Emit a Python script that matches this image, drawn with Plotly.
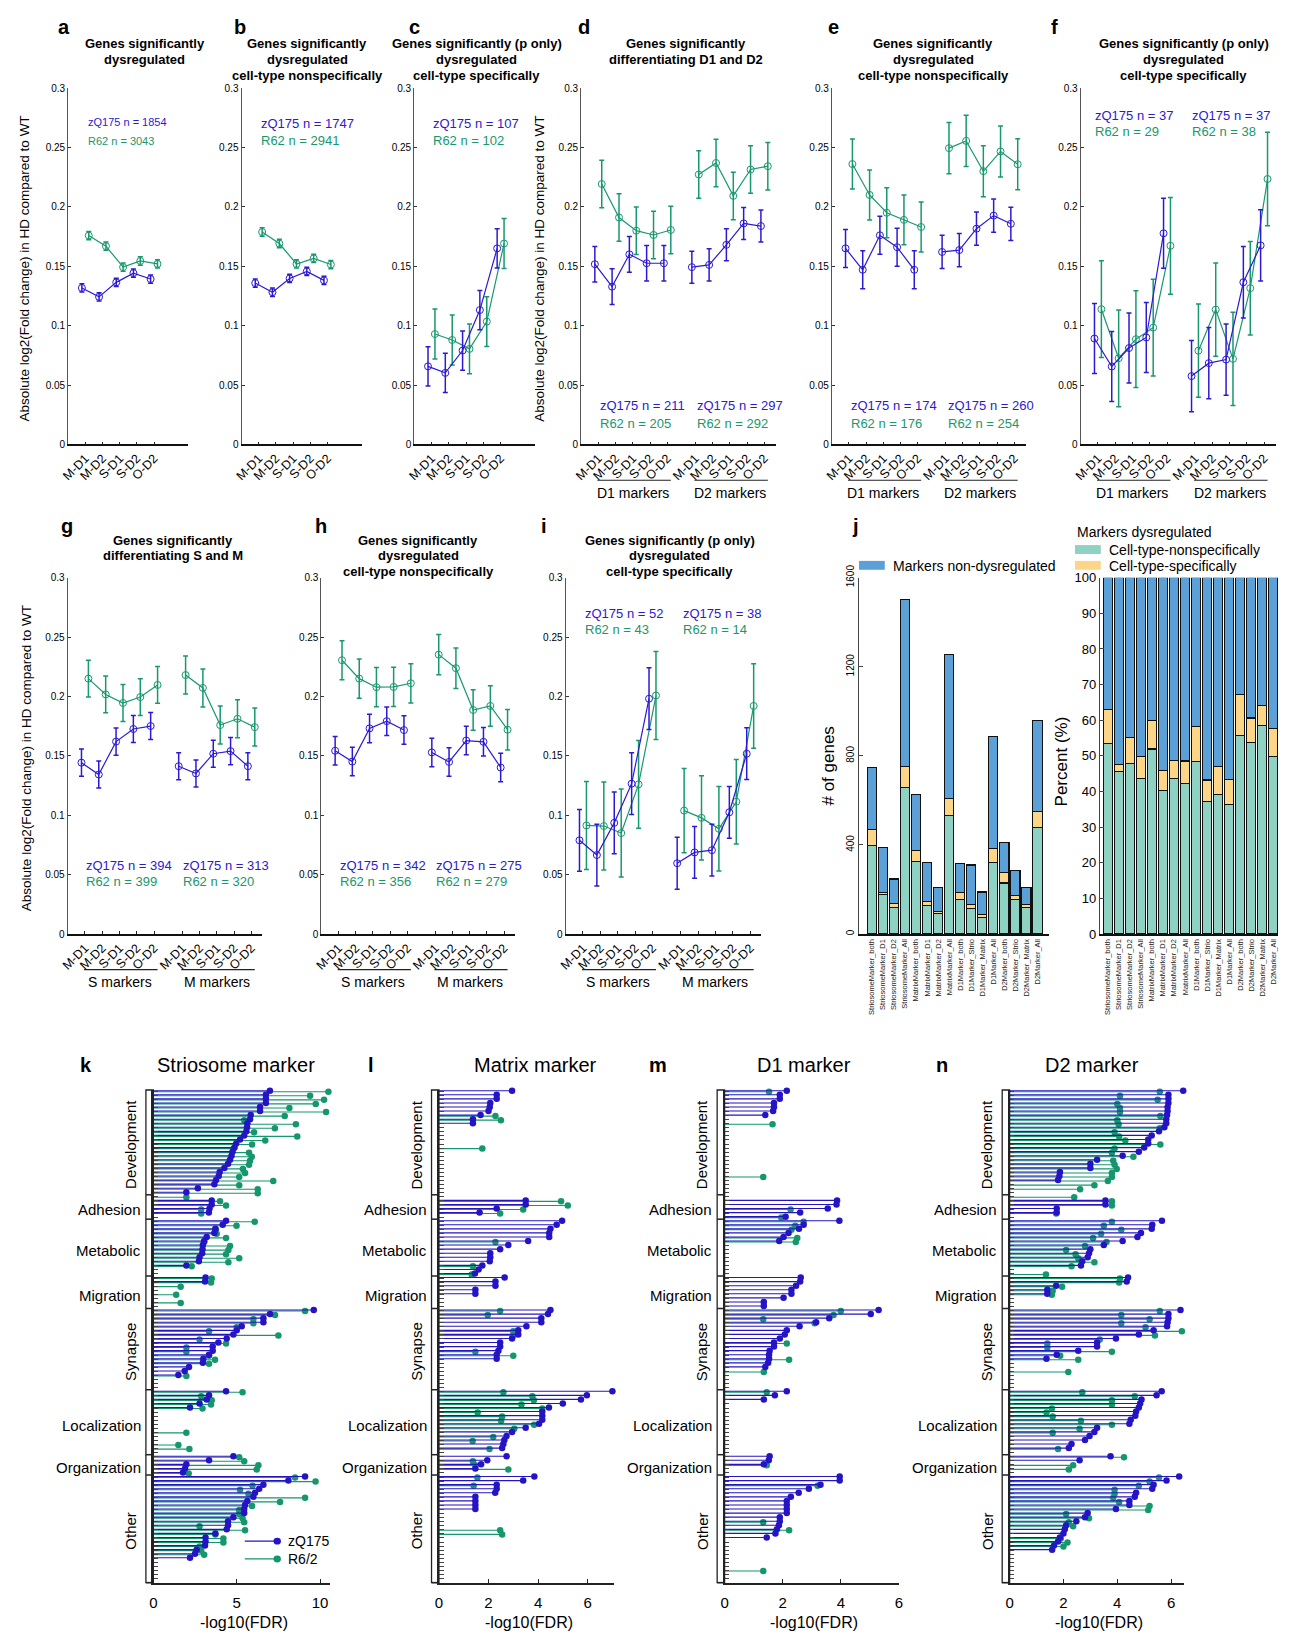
import plotly.graph_objects as go

W, H = 1293, 1639
FONT = "Liberation Sans, Arial, Helvetica, sans-serif"

BLUE = "#2c19d3"
GREEN = "#17986e"
STEM_BLUE = "#2414c4"
STEM_GREEN = "#15966c"
BAR_BLUE = "#5ca0d8"
BAR_TEAL = "#8fd2c3"
BAR_YELLOW = "#fdd587"

# ---------------- panels a-i : mean |log2 FC| per cell-type marker set ----------------
CONDITIONS = ["M-D1", "M-D2", "S-D1", "S-D2", "O-D2"]
Y_TICKS = [0, 0.05, 0.1, 0.15, 0.2, 0.25, 0.3]
Y_TICK_TEXT = ["0", "0.05", "0.1", "0.15", "0.2", "0.25", "0.3"]

A_ZQ = [0.1317, 0.1242, 0.1364, 0.1442, 0.1392]
A_ZQ_ERR = [0.0035, 0.0035, 0.0035, 0.0035, 0.0035]
A_R62 = [0.1758, 0.1669, 0.1492, 0.1544, 0.1519]
A_R62_ERR = [0.0035, 0.0035, 0.0035, 0.0035, 0.0035]

B_ZQ = [0.1358, 0.1281, 0.1397, 0.1456, 0.1381]
B_ZQ_ERR = [0.0035, 0.0035, 0.0035, 0.0035, 0.0035]
B_R62 = [0.1788, 0.1691, 0.1519, 0.1566, 0.1514]
B_R62_ERR = [0.0035, 0.0035, 0.0035, 0.0035, 0.0035]

C_ZQ = [0.0657, 0.0602, 0.0790, 0.1131, 0.1650]
C_ZQ_ERR = [0.0165, 0.0165, 0.0165, 0.0165, 0.0165]
C_R62 = [0.0929, 0.0879, 0.0804, 0.1034, 0.1691]
C_R62_ERR = [0.021, 0.021, 0.021, 0.021, 0.021]

D_ZQ = [0.1517, 0.1328, 0.1600, 0.1525, 0.1525, 0.1492, 0.1511, 0.1680, 0.1860, 0.1838]
D_ZQ_ERR = [0.015, 0.015, 0.015, 0.015, 0.015, 0.0135, 0.0135, 0.0135, 0.0135, 0.0135]
D_R62 = [0.2192, 0.1910, 0.1799, 0.1763, 0.1805, 0.2272, 0.2369, 0.2092, 0.2314, 0.2342]
D_R62_ERR = [0.02, 0.02, 0.02, 0.02, 0.02, 0.02, 0.02, 0.02, 0.02, 0.02]

E_ZQ = [0.1650, 0.1470, 0.1760, 0.1660, 0.1470, 0.1620, 0.1636, 0.1816, 0.1926, 0.1857]
E_ZQ_ERR = [0.016, 0.016, 0.016, 0.016, 0.016, 0.014, 0.014, 0.014, 0.014, 0.014]
E_R62 = [0.2360, 0.2100, 0.1950, 0.1890, 0.1830, 0.2494, 0.2555, 0.2300, 0.2466, 0.2358]
E_R62_ERR = [0.021, 0.021, 0.021, 0.021, 0.021, 0.0215, 0.0215, 0.0215, 0.0215, 0.0215]

F_ZQ = [0.0891, 0.0656, 0.0811, 0.0900, 0.1777, 0.0575, 0.0684, 0.0714, 0.1365, 0.1675]
F_ZQ_ERR = [0.0295, 0.0295, 0.0295, 0.0295, 0.0295, 0.030, 0.030, 0.030, 0.030, 0.030]
F_R62 = [0.1138, 0.0725, 0.0886, 0.0983, 0.1672, 0.0789, 0.1135, 0.0720, 0.1315, 0.2234]
F_R62_ERR = [0.0407, 0.0407, 0.0407, 0.0407, 0.0407, 0.0393, 0.0393, 0.0393, 0.0393, 0.0393]

G_ZQ = [0.1443, 0.1343, 0.1620, 0.1726, 0.1751, 0.1413, 0.1352, 0.1518, 0.1540, 0.1413]
G_ZQ_ERR = [0.0114, 0.0114, 0.0114, 0.0114, 0.0114, 0.0114, 0.0114, 0.0114, 0.0114, 0.0114]
G_R62 = [0.2150, 0.2017, 0.1945, 0.1995, 0.2097, 0.2180, 0.2072, 0.1759, 0.1812, 0.1742]
G_R62_ERR = [0.0155, 0.0155, 0.0155, 0.0155, 0.0155, 0.016, 0.016, 0.016, 0.016, 0.016]

H_ZQ = [0.1543, 0.1452, 0.1731, 0.1792, 0.1717, 0.1529, 0.1449, 0.1629, 0.1618, 0.1402]
H_ZQ_ERR = [0.012, 0.012, 0.012, 0.012, 0.012, 0.012, 0.012, 0.012, 0.012, 0.012]
H_R62 = [0.2305, 0.2150, 0.2078, 0.2080, 0.2111, 0.2352, 0.2238, 0.1886, 0.1920, 0.1720]
H_R62_ERR = [0.0165, 0.0165, 0.0165, 0.0165, 0.0165, 0.017, 0.017, 0.017, 0.017, 0.017]

I_ZQ = [0.0789, 0.0665, 0.0936, 0.1266, 0.1981, 0.0596, 0.0687, 0.0706, 0.1025, 0.1518]
I_ZQ_ERR = [0.026, 0.026, 0.026, 0.026, 0.026, 0.0218, 0.0218, 0.0218, 0.0218, 0.0218]
I_R62 = [0.0914, 0.0909, 0.0850, 0.1260, 0.2008, 0.1039, 0.0978, 0.0886, 0.1114, 0.1920]
I_R62_ERR = [0.037, 0.037, 0.037, 0.037, 0.037, 0.0355, 0.0355, 0.0355, 0.0355, 0.0355]

# gene counts shown in each panel (zQ175, R6/2), one per marker group
A_N = (["1854"], ["3043"])
B_N = (["1747"], ["2941"])
C_N = (["107"], ["102"])
D_N = (["211", "297"], ["205", "292"])
E_N = (["174", "260"], ["176", "254"])
F_N = (["37", "37"], ["29", "38"])
G_N = (["394", "313"], ["399", "320"])
H_N = (["342", "275"], ["356", "279"])
I_N = (["52", "38"], ["43", "14"])

# ---------------- panel j : marker genes and their dysregulation ----------------
MARKER_SETS = ["StriosomeMarker_both", "StriosomeMarker_D1", "StriosomeMarker_D2", "StriosomeMarker_All",
               "MatrixMarker_both", "MatrixMarker_D1", "MatrixMarker_D2", "MatrixMarker_All",
               "D1Marker_both", "D1Marker_Strio", "D1Marker_Matrix", "D1Marker_All",
               "D2Marker_both", "D2Marker_Strio", "D2Marker_Matrix", "D2Marker_All"]
NONSPECIFIC = [399, 177, 118, 657, 325, 130, 92, 532, 154, 115, 74, 322, 229, 154, 121, 477]
SPECIFIC = [71, 8, 18, 94, 50, 18, 11, 78, 31, 19, 15, 62, 47, 20, 12, 74]
NOT_DYSREGULATED = [276, 204, 111, 753, 251, 174, 108, 646, 133, 176, 100, 502, 135, 113, 74, 406]

# ---------------- panels k-n : enriched GO terms (-log10 FDR) ----------------
CATEGORIES = ["Development", "Adhesion", "Metabolic", "Migration", "Synapse",
              "Localization", "Organization", "Other"]
CATEGORY_ROWS = [26, 6, 14, 8, 20, 16, 5, 26]
ROTATED_CATEGORIES = ["Development", "Synapse", "Other"]
_ = None

K_ZQ = [
    [6.99, 6.75, 6.75, 6.75, 6.4, 6.4, 5.84, 5.8, 5.64, 5.62, 5.58, 5.45, 5.2, 4.97, 4.87, 4.75, 4.69, 4.6,
     4.48, 4.26, 3.98, 3.92, 3.76, 3.66, 2.67, 1.98],
    [_, 3.5, 3.5, 3.37, 3.33, _],
    [4.36, 4.16, 3.72, 3.66, 3.2, 3.05, 2.97, 2.95, 2.93, 2.77, 2.73, 1.98, _, _],
    [3.13, 3.1, _, _, _, _, _, _],
    [9.62, 7.0, 6.6, 6.6, 5.3, 5.0, 4.8, 4.4, 3.9, 3.56, 3.56, 3.34, 3.0, 2.97, 2.14, 1.88, 1.5, _, _, _],
    [4.36, 3.34, 3.2, 2.77, 2.2, _, _, _, _, _, _, _, _, _, _, _],
    [4.8, 3.34, 1.98, 1.9, 1.78],
    [9.1, 8.1, 6.6, 6.35, 6.1, 6.0, 5.64, 5.5, 5.45, 5.45, 4.8, 4.48, 4.48, 4.4, 3.72, 3.13, 3.13, 3.1,
     2.6, 2.5, 2.2, _, _, _, _, _],
]
K_R62 = [
    [10.5, 9.4, 10.24, 9.74, 8.16, 10.36, 7.88, 5.45, 8.55, 7.29, 6.04, 8.63, 6.71, 5.92, 4.81, 5.74, 5.9, 5.8,
     5.74, 5.37, 5.5, 5.15, 7.19, 5.15, 6.26, 6.26],
    [1.98, 4.0, 4.36, 2.87, 2.87, _],
    [6.08, 4.99, 3.76, 3.8, 4.36, 3.05, 4.6, 4.5, 4.36, 5.15, 4.5, 2.3, _, _],
    [3.5, 3.46, 1.64, _, 1.37, _, 1.64, _],
    [9.1, 7.3, 6.0, 6.0, 5.0, 3.34, 7.5, 2.77, 4.36, 1.98, 1.98, 3.34, 3.7, 3.34, _, _, 1.98, _, _, _],
    [5.35, 2.87, 3.5, 3.46, 2.95, _, _, _, _, _, 1.98, _, _, 1.5, 2.16, _],
    [5.15, 5.45, 6.3, 6.2, 2.12],
    [8.5, 9.73, 5.95, 5.2, 5.7, 9.1, 7.6, 5.92, 5.15, 5.15, 5.35, 5.45, 2.77, 5.5, 3.72, 4.2, 4.2, 2.77,
     2.87, 3.05, _, _, _, _, _, _],
]
L_ZQ = [
    [2.95, 2.33, 2.33, 2.07, 2.05, 2.0, 1.68, 1.37, 1.37, _, _, _, _, _, _, _, _, _, _, _, _, _, _, _, _, _],
    [_, 3.5, 3.5, 2.33, 1.64, _],
    [4.97, 4.75, 4.5, 4.45, 4.45, 3.6, 2.8, 2.47, 2.07, 2.07, 2.05, 1.75, 1.6, 1.45],
    [2.65, 2.28, 2.28, 1.47, 1.47, _, _, _],
    [4.5, 4.4, 4.13, 4.13, 3.53, 3.2, 3.2, 2.95, 2.47, 2.47, 2.4, 2.33, 2.33, _, _, _, _, _, _, _],
    [7.0, 5.97, 5.73, 5.0, 4.44, 4.17, 4.17, 4.17, 4.04, 3.5, 2.95, 2.73, 2.64, 2.6, 2.55, _],
    [2.73, 1.95, 1.7, 1.47, _],
    [3.85, 3.4, 2.33, 2.33, 2.27, 1.47, 1.47, 1.47, 1.47, _, _, _, _, _, _, _, _, _, _, _, _, _, _, _, _, _],
]
L_R62 = [
    [_, _, _, _, _, _, 2.28, 2.5, _, _, _, _, _, _, 1.75, _, _, _, _, _, _, _, _, _, _, _],
    [_, 4.93, 5.2, 3.4, 2.47, _],
    [_, _, _, _, _, 2.28, _, _, _, _, _, 1.37, _, 1.32],
    [_, _, _, _, _, _, _, _],
    [2.47, 1.97, _, _, _, 3.0, 3.0, _, _, _, 1.47, 3.0, _, _, _, _, _, _, _, _],
    [2.6, 3.77, 3.83, 3.33, 4.17, 1.56, 2.55, 2.51, 3.84, 3.04, _, 2.19, 1.36, _, 2.04, _],
    [_, 1.37, 1.47, 2.8, _],
    [1.55, _, 1.4, _, _, _, _, _, _, _, _, _, _, 2.47, 2.55, _, _, _, _, _, _, _, _, _, _, _],
]
M_ZQ = [
    [2.14, 1.9, 1.9, 1.7, 1.7, 1.67, 1.4, _, _, _, _, _, _, _, _, _, _, _, _, _, _, _, _, _, _, _],
    [_, 3.87, 3.85, 3.55, 2.6, 2.1],
    [3.95, 2.72, 2.56, 2.2, 2.03, 1.88, _, _, _, _, _, _, _, _],
    [2.62, 2.6, 2.46, 2.3, 2.3, 2.03, 1.35, 1.35],
    [5.3, 5.03, 3.6, 3.15, 2.58, 2.14, 2.07, 1.9, 1.7, 1.7, 1.55, 1.53, 1.53, 1.5, 1.4, _, _, _, _, _],
    [2.14, 1.73, 1.35, _, _, _, _, _, _, _, _, _, _, _, _, _],
    [1.55, 1.52, 1.35, _, _],
    [3.96, 3.96, 3.3, 2.9, 2.55, 2.28, 2.14, 2.14, 2.14, 2.14, 1.9, 1.9, 1.87, 1.8, 1.75, 1.45,
     _, _, _, _, _, _, _, _, _, _],
]
M_R62 = [
    [1.53, _, _, _, _, _, _, _, 1.65, _, _, _, _, _, _, _, _, _, _, _, _, 1.33, _, _, _, _],
    [_, _, _, 2.27, _, 1.95],
    [2.72, 2.43, 2.3, _, 2.5, 2.45, _, _, _, _, _, _, _, _],
    [_, _, _, _, _, _, _, _],
    [4.0, 3.75, 1.33, 3.1, _, _, _, _, 2.14, _, _, _, 2.22, _, _, 1.35, _, _, _, _],
    [1.45, _, _, _, _, _, _, _, _, _, _, _, _, _, _, _],
    [_, _, 1.45, _, _],
    [_, _, 3.2, _, _, _, _, _, _, _, _, 1.33, _, 2.22, _, _, _, _, _, _, _, _, _, 1.33, _, _],
]
N_ZQ = [
    [6.45, 5.9, 5.9, 5.9, 5.87, 5.87, 5.85, 5.82, 5.82, 5.75, 5.55, 5.28, 5.15, 5.15, 5.0, 4.8, 4.2, 3.25,
     3.0, 3.0, 1.87, 1.85, 1.8, _, _, _],
    [_, 3.56, 3.56, 1.75, 1.75, _],
    [5.66, 5.3, 5.28, 4.88, 4.75, 4.2, 3.5, 3.0, 2.95, 2.9, 2.7, 2.65, _, _],
    [4.4, 4.35, 1.73, 1.4, 1.4, _, _, _],
    [6.35, 5.9, 5.9, 5.87, 5.85, 5.35, 4.8, 3.95, 3.25, 3.25, 2.55, 1.75, 1.37, _, _, _, _, _, _, _],
    [5.65, 5.46, 4.9, 4.85, 4.8, 4.7, 4.67, 4.5, 4.45, 3.25, 3.15, 2.97, 2.8, 2.3, 2.2, _],
    [3.75, 2.6, _, _, _],
    [6.3, 5.83, 5.35, 5.3, 4.7, 4.65, 4.45, 4.45, 3.95, 2.9, 2.8, 2.48, 2.1, 2.05, 2.0, 1.87, 1.8, 1.65,
     1.58, _, _, _, _, _, _, _],
]
N_R62 = [
    [5.58, 4.1, 5.5, 4.0, 4.1, 4.1, 5.6, 4.0, 4.05, 5.58, 3.9, 4.07, 4.3, 5.6, 3.9, 3.8, 4.6, 3.85, 3.9,
     3.98, 3.8, 3.8, 3.65, 3.15, 2.62, _],
    [2.4, 3.8, 3.8, _, 1.73, _],
    [3.8, 3.5, 4.15, 3.4, 3.1, 3.6, 2.8, 2.1, 2.45, 2.55, 3.15, 2.3, _, 1.35],
    [4.1, 4.07, 1.95, 1.6, 1.57, _, _, _],
    [5.58, 4.15, 5.2, 4.15, 5.05, 6.4, 5.4, 3.35, 1.4, 1.4, 3.8, 1.88, 2.55, _, _, 2.18, _, _, _, _],
    [2.7, 4.65, 3.8, 3.8, 1.57, 1.37, 1.6, 2.65, 3.8, 2.6, 1.6, _, _, _, 1.8, _],
    [4.25, _, 2.36, 2.2, _],
    [5.55, 5.2, 4.8, 3.9, 3.9, 3.85, 4.07, 5.2, 5.15, 2.1, 2.95, 2.2, 2.36, _, _, 1.9, 2.15, 2.0,
     _, _, _, _, _, _, _, _],
]

# ------------------------------------------------------------------------------------
fig = go.Figure()
layout = {}
annotations = []
shapes = []


def axis_ids(i):
    s = "" if i == 1 else str(i)
    return "x" + s, "y" + s, "xaxis" + s, "yaxis" + s


def px(x):
    return x / W


def py(y):
    return 1 - y / H


def text(x, y, s, size, color="black", xanchor="center", yanchor="middle", angle=0,
         xref="paper", yref="paper"):
    annotations.append(dict(
        x=px(x) if xref == "paper" else x, y=py(y) if yref == "paper" else y,
        xref=xref, yref=yref, text=s, showarrow=False, textangle=angle,
        xanchor=xanchor, yanchor=yanchor,
        font=dict(family=FONT, size=size, color=color)))


GROUP_GAP = 5.62


def line_panel(i, box, xmax, groups, zq, zq_err, r6, r6_err):
    xr, yr, xa, ya = axis_ids(i)
    left, right, top, bottom = box
    for g in range(groups):
        base = [k + 1 + g * GROUP_GAP for k in range(5)]
        s = slice(5 * g, 5 * g + 5)
        for vals, errs, color, dx in ((r6[s], r6_err[s], GREEN, 0.2), (zq[s], zq_err[s], BLUE, -0.2)):
            fig.add_trace(go.Scatter(
                x=[b + dx for b in base], y=vals, xaxis=xr, yaxis=yr,
                mode="lines+markers",
                line=dict(color=color, width=1.2),
                marker=dict(symbol="circle-open", size=7, color=color, line=dict(width=1, color=color)),
                error_y=dict(type="data", array=errs, visible=True, width=2.5, thickness=1.5, color=color),
                cliponaxis=False, hoverinfo="skip"))
    tickvals = [k + 1 + g * GROUP_GAP for g in range(groups) for k in range(5)]
    layout[xa] = dict(domain=[px(left), px(right)], anchor=yr, range=[0, xmax],
                      tickvals=tickvals, ticktext=CONDITIONS * groups, tickangle=-45,
                      ticks="inside", ticklen=3, tickcolor="#222", showline=True,
                      linecolor="#111", linewidth=1.6, showgrid=False, zeroline=False,
                      tickfont=dict(size=12.5, family=FONT))
    layout[ya] = dict(domain=[py(bottom), py(top)], anchor=xr, range=[0, 0.3],
                      tickvals=Y_TICKS, ticktext=Y_TICK_TEXT, ticks="inside", ticklen=3,
                      tickcolor="#333", showline=True, linecolor="#555", linewidth=1,
                      showgrid=False, zeroline=False, tickfont=dict(size=10, family=FONT))


def counts_text(i, counts, y_zq, y_r6, size, dx=0.0):
    xr, yr, _, _ = axis_ids(i)
    zq, r6 = counts
    for g in range(len(zq)):
        x0 = 1 + g * GROUP_GAP + dx
        text(x0, y_zq, f"zQ175 n = {zq[g]}", size, BLUE, xanchor="left", xref=xr, yref=yr)
        text(x0, y_r6, f"R62 n = {r6[g]}", size, GREEN, xanchor="left", xref=xr, yref=yr)


def group_labels(i, names, y_line, y_text, size):
    xr = axis_ids(i)[0]
    for g, name in enumerate(names):
        b0 = 1 + g * GROUP_GAP
        shapes.append(dict(type="line", xref=xr, yref="paper", x0=b0 - 0.05, x1=b0 + 4.2,
                           y0=py(y_line), y1=py(y_line), line=dict(color="#222", width=1.2)))
        text(b0 + 2, y_text, name, size, xref=xr)


def title_lines(cx, y0, lines, size):
    for k, ln in enumerate(lines):
        text(cx, y0 + 16 * k, f"<b>{ln}</b>", size)


YLAB = "Absolute log2(Fold change) in HD compared to WT"
T_DYS = ["Genes significantly", "dysregulated"]
T_NONSPEC = ["Genes significantly", "dysregulated", "cell-type nonspecifically"]
T_SPEC = ["Genes significantly (p only)", "dysregulated", "cell-type specifically"]

# row 1
line_panel(1, (60.7, 182.1, 76, 437), 7.0, 1, A_ZQ, A_ZQ_ERR, A_R62, A_R62_ERR)
line_panel(2, (235.7, 357.1, 76, 437), 7.0, 1, B_ZQ, B_ZQ_ERR, B_R62, B_R62_ERR)
line_panel(3, (410.0, 532.1, 76, 437), 7.0, 1, C_ZQ, C_ZQ_ERR, C_R62, C_R62_ERR)
line_panel(4, (578.4, 775.3, 76, 437), 11.3, 2, D_ZQ, D_ZQ_ERR, D_R62, D_R62_ERR)
line_panel(5, (831.5, 1027.5, 76, 437), 11.3, 2, E_ZQ, E_ZQ_ERR, E_R62, E_R62_ERR)
line_panel(6, (1082.7, 1279.7, 76, 437), 11.3, 2, F_ZQ, F_ZQ_ERR, F_R62, F_R62_ERR)
# row 2
line_panel(7, (60.2, 256.6, 572, 933), 11.25, 2, G_ZQ, G_ZQ_ERR, G_R62, G_R62_ERR)
line_panel(8, (316.3, 511.7, 572, 933), 11.25, 2, H_ZQ, H_ZQ_ERR, H_R62, H_R62_ERR)
line_panel(9, (562.8, 760.2, 572, 933), 11.25, 2, I_ZQ, I_ZQ_ERR, I_R62, I_R62_ERR)

counts_text(1, A_N, 0.271, 0.2556, 11, dx=0.03)
counts_text(2, B_N, 0.270, 0.2555, 13, dx=0.0)
counts_text(3, C_N, 0.270, 0.2555, 13, dx=0.0)
counts_text(4, D_N, 0.0324, 0.018, 13)
counts_text(5, E_N, 0.0324, 0.018, 13)
counts_text(6, F_N, 0.277, 0.2635, 13, dx=-0.3)
counts_text(7, G_N, 0.058, 0.0443, 13, dx=-0.05)
counts_text(8, H_N, 0.058, 0.0443, 13, dx=-0.05)
counts_text(9, I_N, 0.270, 0.256, 13)

for i in (4, 5, 6):
    group_labels(i, ["D1 markers", "D2 markers"], 473.3, 486, 14)
for i in (7, 8, 9):
    group_labels(i, ["S markers", "M markers"], 969, 982, 14)

title_lines(138, 31, T_DYS, 13)
title_lines(302, 31, T_NONSPEC, 13)
title_lines(473, 31, T_SPEC, 13)
title_lines(684, 31, ["Genes significantly", "differentiating D1 and D2"], 13)
title_lines(934, 31, T_NONSPEC, 13)
title_lines(1187, 31, T_SPEC, 13)
title_lines(167, 534, ["Genes significantly", "differentiating S and M"], 13)
title_lines(414, 534, T_NONSPEC, 13)
title_lines(668, 534, T_SPEC, 13)

text(17, 259, YLAB, 13.5, angle=-90)
text(537, 259, YLAB, 13.5, angle=-90)
text(18, 755, YLAB, 13.5, angle=-90)

for letter, x, y in (("a", 57, 14), ("b", 234, 14), ("c", 410, 14), ("d", 581, 14), ("e", 833, 14),
                     ("f", 1056, 14), ("g", 60, 520), ("h", 316, 520), ("i", 541, 520), ("j", 855, 520),
                     ("k", 79, 1066), ("l", 366, 1066), ("m", 656, 1066), ("n", 943, 1066)):
    text(x, y, f"<b>{letter}</b>", 20)

# ---------------- panel j ----------------
total = [a + b + c for a, b, c in zip(NONSPECIFIC, SPECIFIC, NOT_DYSREGULATED)]
pct_non = [100 * a / t for a, t in zip(NONSPECIFIC, total)]
pct_spec = [100 * b / t for b, t in zip(SPECIFIC, total)]
pct_rest = [100 * c / t for c, t in zip(NOT_DYSREGULATED, total)]
xs = list(range(len(MARKER_SETS)))
for i, series in ((10, (NONSPECIFIC, SPECIFIC, NOT_DYSREGULATED)), (11, (pct_non, pct_spec, pct_rest))):
    xr, yr, _, _ = axis_ids(i)
    for vals, color in zip(series, (BAR_TEAL, BAR_YELLOW, BAR_BLUE)):
        fig.add_trace(go.Bar(x=xs, y=vals, xaxis=xr, yaxis=yr, marker=dict(color=color,
                             line=dict(color="#111", width=1.1)), hoverinfo="skip"))

common_jx = dict(tickvals=xs, ticktext=MARKER_SETS, tickangle=-90, ticks="", showline=True,
                 linecolor="#111", linewidth=2, showgrid=False, zeroline=False,
                 tickfont=dict(size=7.5, color="#222", family=FONT))
layout["xaxis10"] = dict(domain=[px(859), px(1051)], anchor="y10", range=[-1.17, 16.07], **common_jx)
layout["yaxis10"] = dict(domain=[py(933), py(572)], anchor="x10", range=[0, 1600],
                         tickvals=[0, 400, 800, 1200, 1600], tickangle=-90, ticks="inside", ticklen=4,
                         showline=True, linecolor="#444", linewidth=1, showgrid=False, zeroline=False,
                         tickfont=dict(size=10, family=FONT))
layout["xaxis11"] = dict(domain=[px(1102), px(1282)], anchor="y11", range=[-0.75, 15.45], **common_jx)
layout["yaxis11"] = dict(domain=[py(933), py(572)], anchor="x11", range=[0, 100],
                         tickvals=list(range(0, 101, 10)), ticks="inside", ticklen=4,
                         showline=True, linecolor="#444", linewidth=1, showgrid=False, zeroline=False,
                         tickfont=dict(size=13, family=FONT))
text(828, 763, "# of genes", 17, angle=-90)
text(1063, 758, "Percent (%)", 17, angle=-90)

# legends of panel j
for (x0, y0, color) in ((859, 555, BAR_BLUE), (1077, 539, BAR_TEAL), (1077, 555, BAR_YELLOW)):
    shapes.append(dict(type="rect", xref="paper", yref="paper", x0=px(x0), x1=px(x0 + 26),
                       y0=py(y0 + 9), y1=py(y0), fillcolor=color, line=dict(width=0)))
text(891, 560, "Markers non-dysregulated", 14, xanchor="left")
text(1077, 526, "Markers dysregulated", 14, xanchor="left")
text(1109, 544, "Cell-type-nonspecifically", 14, xanchor="left")
text(1109, 560, "Cell-type-specifically", 14, xanchor="left")

# ---------------- panels k-n ----------------
ROW_TOP, ROW_BOTTOM = -0.3, 121.0
LOLLI_TOP, LOLLI_BOTTOM = 1091, 1590
LABEL_SHIFT = 0.7  # category labels sit slightly below the block centre


def flatten(series):
    rows = []
    for vals, n in zip(series, CATEGORY_ROWS):
        vals = list(vals)[:n]
        rows += vals + [None] * (n - len(vals))
    return rows


def row_px(r):
    return LOLLI_TOP + (r - ROW_TOP) / (ROW_BOTTOM - ROW_TOP) * (LOLLI_BOTTOM - LOLLI_TOP)


def lollipop_panel(i, x0px, x1px, xmax, xticks, zq, r6, title, title_x):
    xr, yr, xa, ya = axis_ids(i)
    for rows, color, dy in ((flatten(r6), STEM_GREEN, 0.12), (flatten(zq), STEM_BLUE, -0.12)):
        lx, ly, mx, my = [], [], [], []
        for r, v in enumerate(rows):
            if v is None:
                continue
            lx += [0, v, None]
            ly += [r + dy, r + dy, None]
            mx.append(v)
            my.append(r + dy)
        fig.add_trace(go.Scatter(x=lx, y=ly, xaxis=xr, yaxis=yr, mode="lines",
                                 line=dict(color=color, width=1.1), hoverinfo="skip"))
        fig.add_trace(go.Scatter(x=mx, y=my, xaxis=xr, yaxis=yr, mode="markers",
                                 marker=dict(color=color, size=6.5), cliponaxis=False, hoverinfo="skip"))
    n_rows = sum(CATEGORY_ROWS)
    layout[xa] = dict(domain=[px(x0px), px(x1px)], anchor=yr, range=[0, xmax], tickvals=xticks,
                      ticks="inside", ticklen=4, tickcolor="#222", showline=True, linecolor="#222",
                      linewidth=1.5, showgrid=False, zeroline=False, ticklabelstandoff=6,
                      tickfont=dict(size=15, family=FONT))
    layout[ya] = dict(domain=[py(LOLLI_BOTTOM), py(LOLLI_TOP)], anchor=xr, range=[ROW_BOTTOM, ROW_TOP],
                      tickvals=list(range(n_rows)), showticklabels=False, ticks="inside", ticklen=5,
                      tickwidth=0.8, tickcolor="#444", showline=True, linecolor="#222", linewidth=1.5,
                      showgrid=False, zeroline=False)
    # category strip left of the axis
    sx0, sx1 = x0px - 7.5, x0px
    shapes.append(dict(type="rect", xref="paper", yref="paper", x0=px(sx0), x1=px(sx1),
                       y0=py(LOLLI_BOTTOM), y1=py(LOLLI_TOP), line=dict(color="#222", width=1.3)))
    shapes.append(dict(type="line", xref="paper", yref="paper", x0=px(sx0), x1=px(sx1),
                       y0=py(LOLLI_BOTTOM), y1=py(LOLLI_BOTTOM), line=dict(color="#222", width=1.5)))
    start = 0
    for name, n in zip(CATEGORIES, CATEGORY_ROWS):
        if start > 0:
            yb = row_px(start - 0.5)
            shapes.append(dict(type="line", xref="paper", yref="paper", x0=px(sx0), x1=px(sx1),
                               y0=py(yb), y1=py(yb), line=dict(color="#222", width=1.5)))
        yc = row_px(start + (n - 1) / 2 + LABEL_SHIFT)
        if name in ROTATED_CATEGORIES:
            text(sx0 - 15, yc, name, 15, angle=-90)
        else:
            text(sx0 - 3, yc, name, 15, xanchor="right")
        start += n
    text(title_x, 1066, title, 20)
    text((x0px + x1px) / 2 + 2, 1630, "-log10(FDR)", 16)


lollipop_panel(12, 146.7, 325.1, 10.6, [0, 5, 10], K_ZQ, K_R62, "Striosome marker", 230)
lollipop_panel(13, 435.0, 611.8, 7.07, [0, 2, 4, 6], L_ZQ, L_R62, "Matrix marker", 532)
lollipop_panel(14, 723.3, 899.3, 6.0, [0, 2, 4, 6], M_ZQ, M_R62, "D1 marker", 803)
lollipop_panel(15, 1011.0, 1187.3, 6.49, [0, 2, 4, 6], N_ZQ, N_R62, "D2 marker", 1094)

# legend of the GO panels
for (y, color, label) in ((1548, STEM_BLUE, "zQ175"), (1566, STEM_GREEN, "R6/2")):
    shapes.append(dict(type="line", xref="paper", yref="paper", x0=px(239), x1=px(271),
                       y0=py(y), y1=py(y), line=dict(color=color, width=1.3)))
    shapes.append(dict(type="circle", xref="paper", yref="paper", x0=px(268), x1=px(275.5),
                       y0=py(y + 3.5), y1=py(y - 3.5), fillcolor=color, line=dict(width=0)))
    text(281, y, label, 14, xanchor="left")

fig.update_layout(width=W, height=H, margin=dict(l=0, r=0, t=0, b=0), paper_bgcolor="white",
                  plot_bgcolor="white", showlegend=False, barmode="stack", bargap=0.16,
                  font=dict(family=FONT, color="black"), annotations=annotations, shapes=shapes,
                  **layout)
fig.write_html("out.html")
